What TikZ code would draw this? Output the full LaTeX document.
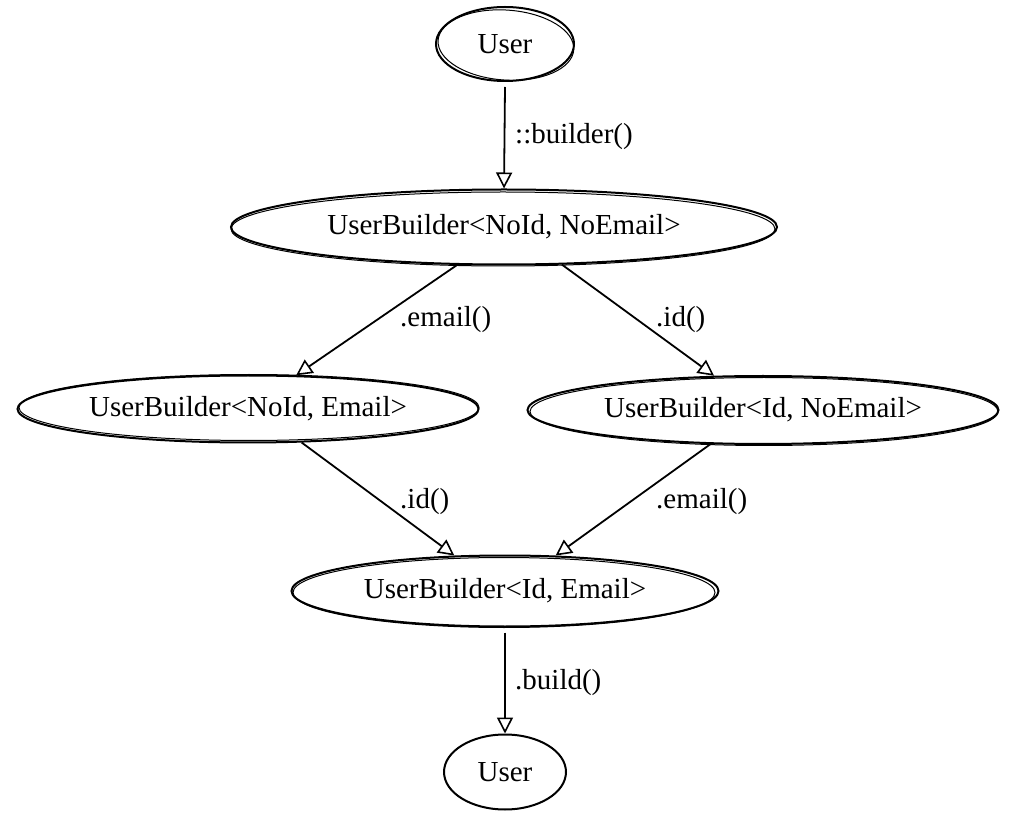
\documentclass[tikz,border=0pt]{standalone}
\usepackage{fontspec}
\setmainfont{Liberation Serif}
\usetikzlibrary{shapes.geometric,arrows.meta}
\begin{document}
\begin{tikzpicture}[x=1pt,y=-1pt,
  state/.style={draw,ellipse,line width=2pt,inner sep=0pt,font=\fontsize{29}{33}\selectfont},
  sketch/.style={line width=1pt},
  conn/.style={line width=1.8pt,-{Triangle[open,length=16pt,width=16pt,line width=1.6pt]}},
  lbl/.style={font=\fontsize{29}{33}\selectfont,inner sep=0pt}]
\useasboundingbox (0,0) rectangle (1013,818);
\node[state,minimum width=138pt,minimum height=74pt] (u0) at (505,44) {\raisebox{-2pt}{User}};
\node[state,minimum width=546pt,minimum height=75pt] (b0) at (504,227) {\raisebox{-2pt}{UserBuilder<NoId, NoEmail>}};
\node[state,minimum width=461pt,minimum height=67pt] (b1) at (248,409) {\raisebox{-2pt}{UserBuilder<NoId, Email>}};
\node[state,minimum width=471pt,minimum height=68pt] (b2) at (763,410) {\raisebox{-2pt}{UserBuilder<Id, NoEmail>}};
\node[state,minimum width=427pt,minimum height=71pt] (b3) at (505,591) {\raisebox{-2pt}{UserBuilder<Id, Email>}};
\node[state,minimum width=122pt,minimum height=75pt] (u1) at (505,772) {\raisebox{-2pt}{User}};
% hand-drawn second strokes
\draw[sketch,rotate around={-4:(u0.center)}] ([xshift=1pt,yshift=-1pt]u0.center) ellipse [x radius=68pt,y radius=35pt];
\draw[sketch] ([xshift=-1pt,yshift=-2pt]b0.center) ellipse [x radius=272pt,y radius=37pt];
\draw[sketch] ([xshift=1pt,yshift=1.5pt]b1.center) ellipse [x radius=230pt,y radius=33pt];
\draw[sketch] ([xshift=1pt,yshift=-1.5pt]b2.center) ellipse [x radius=234pt,y radius=34pt];
\draw[sketch] ([xshift=-1pt,yshift=-1.5pt]b3.center) ellipse [x radius=211pt,y radius=35pt];
\draw[conn] ([yshift=-5pt]u0.south) -- (b0.north);
\draw[conn] (b0.219) -- (b1.35);
\draw[conn] (b0.327) -- (b2.145);
\draw[conn] (b1.328) -- (b3.145);
\draw[conn] (b2.213) -- (b3.35);
\draw[conn] ([yshift=-5pt]b3.south) -- (u1.north);
\node[lbl,anchor=west] (l0) at (515,137) {::builder()};
\node[lbl,anchor=west] (l1) at (400,320) {.email()};
\node[lbl,anchor=west] (l2) at (656,320) {.id()};
\node[lbl,anchor=west] (l3) at (400,502) {.id()};
\node[lbl,anchor=west] (l4) at (656,502) {.email()};
\node[lbl,anchor=west] (l5) at (515,683) {.build()};
\end{tikzpicture}
\end{document}
